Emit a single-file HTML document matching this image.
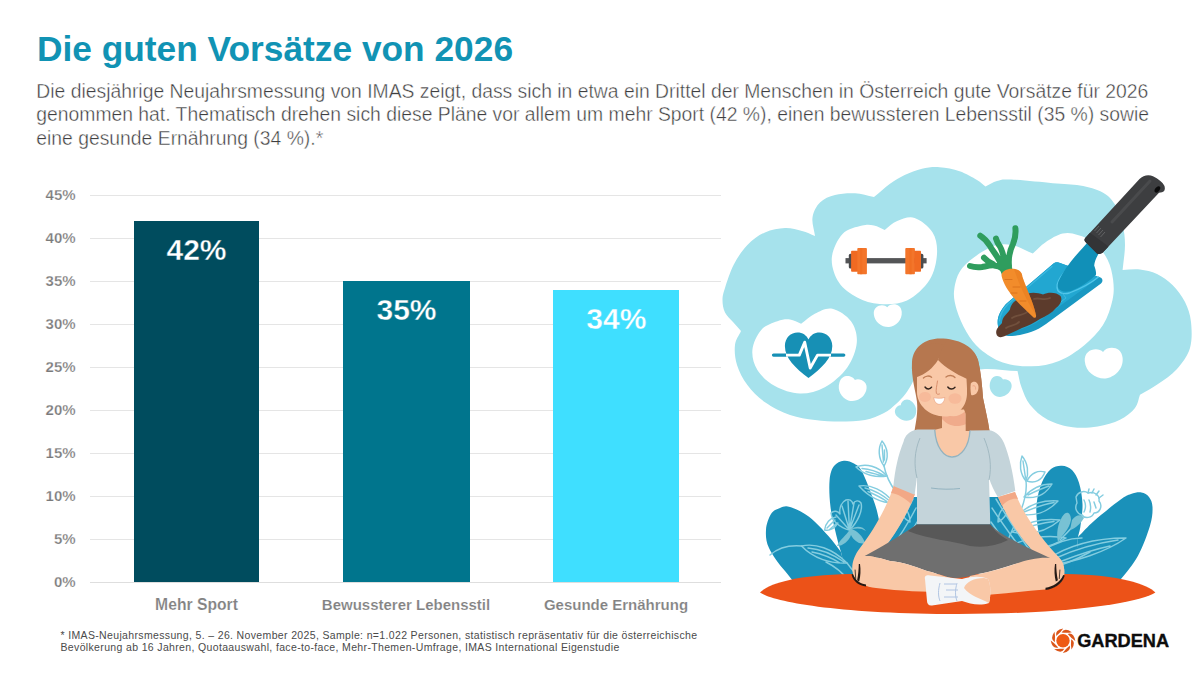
<!DOCTYPE html>
<html lang="de">
<head>
<meta charset="utf-8">
<title>Die guten Vorsätze von 2026</title>
<style>
html,body{margin:0;padding:0;background:#fff;}
body{width:1203px;height:677px;position:relative;overflow:hidden;font-family:"Liberation Sans",sans-serif;}
.abs{position:absolute;white-space:nowrap;}
#title{left:37px;top:28.8px;font-size:35.3px;line-height:40px;font-weight:bold;color:#1193b4;}
.body{left:36.3px;font-size:19.34px;line-height:24px;color:#3e3e40;-webkit-text-stroke:0.4px #fff;}
.grid{position:absolute;left:90px;width:631px;height:1px;background:#e5e5e5;}
.ylab{position:absolute;left:30px;width:45.6px;text-align:right;font-size:15px;line-height:16px;font-weight:bold;color:#7a7a7a;-webkit-text-stroke:0.25px #fff;}
.bar{position:absolute;}
.val{position:absolute;width:126px;text-align:center;color:#fff;font-weight:bold;font-size:30px;line-height:30px;}
.cat{position:absolute;width:210px;text-align:center;color:#828282;font-weight:bold;font-size:15px;line-height:18px;top:595.9px;-webkit-text-stroke:0.15px #fff;}
.foot{left:60.5px;font-size:10.5px;line-height:12px;color:#4a4a4a;letter-spacing:0.35px;}
#illu{position:absolute;left:0;top:0;}
</style>
</head>
<body>
<div id="title" class="abs">Die guten Vorsätze von 2026</div>
<div id="b1" class="abs body" style="top:78.8px;">Die diesjährige Neujahrsmessung von IMAS zeigt, dass sich in etwa ein Drittel der Menschen in Österreich gute Vorsätze für 2026</div>
<div id="b2" class="abs body" style="top:102.4px;">genommen hat. Thematisch drehen sich diese Pläne vor allem um mehr Sport (42 %), einen bewussteren Lebensstil (35 %) sowie</div>
<div id="b3" class="abs body" style="top:126px;">eine gesunde Ernährung (34 %).*</div>

<!-- gridlines -->
<div class="grid" style="top:195px"></div>
<div class="grid" style="top:238px"></div>
<div class="grid" style="top:281px"></div>
<div class="grid" style="top:324px"></div>
<div class="grid" style="top:367px"></div>
<div class="grid" style="top:410px"></div>
<div class="grid" style="top:453px"></div>
<div class="grid" style="top:496px"></div>
<div class="grid" style="top:539px"></div>
<div class="grid" style="top:582px;background:#dedede"></div>

<!-- y labels -->
<div class="ylab" style="top:187px">45%</div>
<div class="ylab" style="top:230px">40%</div>
<div class="ylab" style="top:273px">35%</div>
<div class="ylab" style="top:316px">30%</div>
<div class="ylab" style="top:359px">25%</div>
<div class="ylab" style="top:402px">20%</div>
<div class="ylab" style="top:445px">15%</div>
<div class="ylab" style="top:488px">10%</div>
<div class="ylab" style="top:531px">5%</div>
<div class="ylab" style="top:574px">0%</div>

<!-- bars -->
<div class="bar" style="left:133.5px;top:221px;width:125.5px;height:361px;background:#004c5e"></div>
<div class="bar" style="left:343.3px;top:281px;width:126.5px;height:301px;background:#00758d"></div>
<div class="bar" style="left:553.3px;top:289.6px;width:126px;height:292px;background:#3fdfff"></div>
<div class="val" style="left:133.5px;top:235.2px;-webkit-text-stroke:0.4px #004c5f">42%</div>
<div class="val" style="left:343.5px;top:295.2px;-webkit-text-stroke:0.4px #00758d">35%</div>
<div class="val" style="left:553.3px;top:303.8px;-webkit-text-stroke:0.4px #3fdfff">34%</div>

<div class="cat" style="left:91.5px;font-size:15.7px">Mehr Sport</div>
<div class="cat" style="left:301px">Bewussterer Lebensstil</div>
<div class="cat" style="left:511px">Gesunde Ernährung</div>

<div id="f1" class="abs foot" style="top:628.7px">* IMAS-Neujahrsmessung, 5. – 26. November 2025, Sample: n=1.022 Personen, statistisch repräsentativ für die österreichische</div>
<div id="f2" class="abs foot" style="top:641.2px">Bevölkerung ab 16 Jahren, Quotaauswahl, face-to-face, Mehr-Themen-Umfrage, IMAS International Eigenstudie</div>

<svg id="illu" width="1203" height="677" viewBox="0 0 1203 677">
<!--ILLU-->
<path d="M722.5,300.0 C722.5,295.9 723.1,293.9 725.0,288.0 C726.9,282.1 730.0,272.0 733.7,264.8 C737.4,257.6 742.2,250.3 747.4,244.9 C752.6,239.5 758.7,235.2 765.0,232.4 C771.3,229.6 778.8,228.2 785.0,228.0 C791.2,227.8 797.0,229.7 802.0,231.0 C807.0,232.3 810.7,234.3 815.0,236.0 C814.2,229.9 811.7,223.0 812.5,217.4 C813.3,211.8 816.2,206.1 820.0,202.4 C823.8,198.7 829.2,196.5 835.0,195.0 C840.8,193.5 848.5,193.0 855.0,193.3 C861.5,193.6 867.7,195.8 874.0,197.0 C879.3,192.6 884.9,187.4 890.0,183.7 C895.1,180.0 899.4,177.5 904.7,175.0 C910.0,172.5 916.2,170.0 922.0,168.7 C927.8,167.4 933.3,166.8 939.6,167.2 C945.9,167.6 953.4,169.1 959.6,171.2 C965.8,173.3 972.7,177.4 977.0,180.0 C981.3,182.6 982.7,184.4 985.5,186.5 C989.3,184.7 992.9,182.2 997.0,181.0 C1001.1,179.8 1000.7,179.1 1010.0,179.5 C1019.3,179.9 1041.0,182.2 1052.7,183.2 C1064.4,184.2 1071.7,184.0 1080.0,185.5 C1088.3,187.0 1096.9,189.2 1102.7,192.4 C1108.5,195.6 1111.7,199.1 1115.0,204.5 C1118.3,209.9 1120.9,218.2 1122.6,225.0 C1124.3,231.8 1125.0,237.5 1125.0,245.0 C1125.0,252.5 1123.4,261.8 1122.6,270.0 C1128.3,269.8 1134.3,268.8 1140.0,269.5 C1145.7,270.2 1151.6,271.4 1157.0,274.0 C1162.4,276.6 1167.8,280.3 1172.5,285.0 C1177.2,289.7 1181.9,295.8 1185.0,302.0 C1188.1,308.2 1190.2,314.3 1191.0,322.0 C1191.8,329.7 1192.3,340.2 1190.0,348.0 C1187.7,355.8 1182.3,363.0 1177.0,369.0 C1171.7,375.0 1164.2,379.7 1158.0,384.0 C1151.8,388.3 1145.9,391.2 1140.0,394.8 C1138.3,399.2 1138.3,403.8 1135.0,408.0 C1131.7,412.2 1126.2,416.7 1120.0,419.8 C1113.8,422.9 1105.6,425.2 1097.7,426.5 C1089.8,427.8 1081.0,428.4 1072.7,427.3 C1064.4,426.2 1054.8,423.6 1047.7,419.8 C1040.6,416.1 1034.4,410.2 1030.0,404.8 C1025.6,399.4 1023.6,392.9 1021.5,387.3 C1019.4,381.7 1018.8,376.4 1017.5,371.0 C1004.5,370.7 987.6,367.2 978.0,370.0 C968.4,372.8 970.6,386.8 960.0,388.0 C949.4,389.2 929.5,380.6 914.5,377.0 C913.7,379.1 913.6,380.6 912.0,383.5 C910.4,386.4 907.7,391.1 905.0,394.5 C902.3,397.9 899.5,400.9 896.0,404.0 C892.5,407.1 889.2,410.3 884.0,413.0 C878.8,415.7 872.3,418.6 865.0,420.0 C857.7,421.4 848.3,421.5 840.0,421.5 C831.7,421.5 823.3,421.1 815.0,420.0 C806.7,418.9 798.3,417.9 790.0,415.0 C781.7,412.1 772.1,407.3 765.0,402.3 C757.9,397.3 752.1,391.2 747.4,385.0 C742.7,378.8 739.1,371.7 737.0,365.0 C734.9,358.3 734.3,350.7 735.0,345.0 C735.7,339.3 739.0,335.6 741.0,331.0 C738.4,328.0 735.7,325.1 733.0,322.0 C730.3,318.9 726.8,316.2 725.0,312.5 C723.2,308.8 722.5,304.1 722.5,300.0Z" fill="#a6e2ec"/>
<path d="M884.7,229.9 C881.2,228.4 877.8,226.2 874.0,225.5 C870.2,224.8 867.5,224.2 862.2,225.6 C857.0,227.0 847.6,228.6 842.5,234.0 C837.4,239.4 832.4,249.9 831.8,258.0 C831.2,266.1 834.6,275.7 838.8,282.3 C843.0,288.9 850.4,293.9 857.2,297.5 C864.0,301.1 871.4,303.5 879.7,304.0 C888.0,304.5 898.7,304.5 907.0,300.5 C915.3,296.5 924.5,287.8 929.5,280.0 C934.5,272.2 936.5,261.9 937.0,254.0 C937.5,246.1 936.3,238.4 932.6,232.4 C928.9,226.4 920.5,219.8 914.6,217.9 C908.7,216.0 902.2,219.1 897.2,221.1 C892.2,223.1 888.8,227.0 884.7,229.9Z" fill="#fff"/>
<path d="M801.1,323.7 C797.4,322.3 794.0,319.9 790.0,319.5 C786.0,319.1 782.2,319.5 777.4,321.2 C772.6,322.9 765.4,325.1 761.2,329.9 C757.0,334.7 753.0,343.2 752.4,349.9 C751.8,356.6 753.6,363.9 757.4,369.9 C761.1,375.9 767.8,382.2 774.9,386.1 C782.0,390.1 791.6,393.4 799.9,393.6 C808.2,393.8 816.9,391.7 824.8,387.3 C832.7,382.9 842.0,374.9 847.3,367.4 C852.6,359.9 856.2,350.1 856.8,342.4 C857.4,334.7 855.1,326.8 851.0,321.2 C846.9,315.6 838.3,309.9 832.3,308.7 C826.3,307.4 820.0,311.2 814.8,313.7 C809.6,316.2 805.6,320.4 801.1,323.7Z" fill="#fff"/>
<path d="M1032.8,253.6 C1025.9,250.8 1019.1,246.1 1012.0,245.0 C1004.9,243.9 998.6,243.6 990.4,247.3 C982.2,251.0 968.9,260.2 962.9,267.3 C956.9,274.4 955.2,282.7 954.2,289.8 C953.2,296.9 954.7,302.7 956.7,309.7 C958.8,316.7 962.6,325.4 966.5,332.0 C970.4,338.6 974.0,343.9 980.0,349.0 C986.0,354.1 994.2,359.6 1002.8,362.5 C1011.4,365.4 1022.2,366.6 1031.6,366.3 C1041.0,366.1 1050.3,364.5 1059.0,361.0 C1067.7,357.5 1076.7,351.5 1084.0,345.5 C1091.3,339.5 1098.2,332.6 1103.0,325.0 C1107.8,317.4 1110.8,307.5 1112.5,300.0 C1114.2,292.5 1113.9,286.5 1113.1,279.8 C1112.3,273.1 1110.6,265.9 1107.6,259.8 C1104.6,253.7 1100.0,247.2 1095.0,243.0 C1090.0,238.8 1083.1,236.5 1077.7,234.9 C1072.3,233.3 1068.1,232.3 1062.7,233.6 C1057.3,234.8 1050.3,239.1 1045.3,242.4 C1040.3,245.7 1036.9,249.9 1032.8,253.6Z" fill="#fff"/>
<path d="M0,-0.72 C-0.22,-1.08 -1,-1.05 -1,-0.22 C-1,0.5 -0.5,0.98 0,1 C0.5,0.98 1,0.5 1,-0.22 C1,-1.05 0.22,-1.08 0,-0.72 Z" fill="#fff" transform="translate(888,315.5) rotate(-5) scale(14,11.5)"/>
<path d="M0,-0.78 C-0.22,-1.08 -1,-1.05 -1,-0.22 C-1,0.5 -0.5,0.98 0,1 C0.5,0.98 1,0.5 1,-0.22 C1,-1.05 0.22,-1.08 0,-0.78 Z" fill="#fff" transform="translate(852,389) rotate(18) scale(14,12)"/>
<path d="M0,-0.72 C-0.22,-1.08 -1,-1.05 -1,-0.22 C-1,0.5 -0.5,0.98 0,1 C0.5,0.98 1,0.5 1,-0.22 C1,-1.05 0.22,-1.08 0,-0.72 Z" fill="#fff" transform="translate(1104,363) rotate(-5) scale(19,15.5)"/>
<path d="M0,-0.8 C-0.22,-1.08 -1,-1.05 -1,-0.22 C-1,0.5 -0.5,0.98 0,1 C0.5,0.98 1,0.5 1,-0.22 C1,-1.05 0.22,-1.08 0,-0.8 Z" fill="#a6e2ec" transform="translate(906.5,411) rotate(-45) scale(10.5,10)"/>
<path d="M0,-0.8 C-0.22,-1.08 -1,-1.05 -1,-0.22 C-1,0.5 -0.5,0.98 0,1 C0.5,0.98 1,0.5 1,-0.22 C1,-1.05 0.22,-1.08 0,-0.8 Z" fill="#a6e2ec" transform="translate(1000,387) rotate(22) scale(11,10)"/>
<rect x="845.5" y="258.1" width="81.1" height="5.3" fill="#545557"/>
<rect x="848.8" y="253.8" width="4" height="14.8" rx="1.6" fill="#4a4b4d"/>
<rect x="919.4" y="253.8" width="4" height="14.8" rx="1.6" fill="#4a4b4d"/>
<rect x="851.1" y="250.7" width="7" height="21" rx="0.8" fill="#f06a22"/>
<rect x="857.3" y="248.1" width="9.6" height="26.2" rx="0.8" fill="#f3752a"/>
<rect x="905.3" y="248.1" width="9.6" height="26.2" rx="0.8" fill="#f3752a"/>
<rect x="914.2" y="250.7" width="6.8" height="21" rx="0.8" fill="#f06a22"/>
<rect x="860" y="248.1" width="2.2" height="26.2" fill="#ee6a20" opacity="0.6"/>
<rect x="909.5" y="248.1" width="2.2" height="26.2" fill="#ee6a20" opacity="0.6"/>
<path d="M808.5,377.9 C795,368 784.9,358 784.9,346 C784.9,337.5 791,332.4 797.5,332.4 C802.5,332.4 806.5,335 808.5,339.5 C810.5,335 814.5,332.4 819.5,332.4 C826,332.4 832.3,337.5 832.3,346 C832.3,358 822,368 808.5,377.9Z" fill="#1790b5"/>
<path d="M773.5,355.1 H786 M831,355.1 H843.8" stroke="#1790b5" stroke-width="3.2" stroke-linecap="round" fill="none"/>
<path d="M786,355.1 H799.3 L804.7,342.2 L810.2,368 L817.5,355.1 H831" stroke="#fff" stroke-width="2.9" stroke-linejoin="round" fill="none"/>
<path d="M998,326 C996.5,318 1000,311 1006,304 L1053.5,263.5 C1055.5,262 1058,262 1060,263 L1100.5,277.5 C1103,278.8 1103,281.5 1101,283.5 L1046,324 C1036,331.5 1024,335 1012,336 C1004,336.5 999,333 998,326Z" fill="#1a98c2"/>
<path d="M998,326 C996.5,318 1000,311 1006,304 L1053.5,263.5 C1055.5,262 1058,262 1060,263 L1096,276 C1097.5,277 1097.5,278.5 1096,279.8 L1042,319 C1032,326 1020,330.5 1010,331.5 C1003,332 999,330 998,326Z" fill="#22a7d1"/>
<path d="M1069.3,266.5 C1063,273 1058.5,279 1057.2,284.5 C1056.5,289 1058,292 1061.5,293 C1064,293.8 1067,293.6 1069.3,293 C1080,289 1091,283 1098.5,277" stroke="#52c6ea" stroke-width="1.3" fill="none" stroke-linecap="round"/>
<path d="M1052,266.5 L1008,304 C1003,309 1000,315 999.5,321" stroke="#3db9e0" stroke-width="1.1" fill="none" stroke-linecap="round"/>
<path d="M1063,294 L1066,298 L1040,318" stroke="#3db9e0" stroke-width="1" fill="none" stroke-linecap="round"/>
<path d="M1089,240.5 L1099,253 C1096,258 1094.5,262 1094.2,265.5 C1095.5,269 1096.3,272 1096,274.8 C1089,282 1080,287.5 1071,291 C1065,292.5 1060.5,291.5 1058.5,288.5 C1057.3,286 1057.6,283 1059.5,279.5 C1063,272 1069,263.5 1075,256.5 C1080,251 1084.5,246 1089,240.5Z" fill="#1190b8"/>
<path d="M1085.2,238 L1139.5,179 C1143,175 1149,174.2 1153,176.2 C1158,178.5 1163,182.5 1164.5,186 C1165.5,189.5 1164.5,191.5 1162,192.3 L1159,192.8 L1104,251.3 C1102,253.8 1099,254.8 1097,253.5 L1085.5,242 C1084.2,240.6 1084.2,239.2 1085.2,238Z" fill="#3d3e40"/>
<path d="M1085.2,238 L1090,232.8 L1108.5,246.5 L1104,251.3 C1102,253.8 1099,254.8 1097,253.5 L1085.5,242 C1084.2,240.6 1084.2,239.2 1085.2,238Z" fill="#333436"/>
<path d="M1112,222 L1150,181" stroke="#4a4b4d" stroke-width="3" fill="none" stroke-linecap="round"/>
<ellipse cx="1157.4" cy="189.4" rx="2.2" ry="3.6" transform="rotate(38 1157.4 189.4)" fill="#0a0a0a"/>
<path d="M1094.5,231 L1099,226 M1096.5,233 L1101,228 M1098.5,235 L1103,230 M1100.5,237 L1105,232" stroke="#6c6d6f" stroke-width="0.8" fill="none"/>
<path d="M996.3,333.5 C995.5,329 999,326.5 1002,323 C1002,317 1007,314 1010,309.5 C1011,303 1017,299 1023,296 C1029,291.5 1037,292.5 1043,294.5 C1049,291.5 1057,292.5 1060.5,296 C1063,300 1060,305 1056,308 C1052,313 1046,316 1040,319 C1034,323 1028,326 1022,328 C1016,331 1010,333 1005,336 C1001,338 997,337.5 996.3,333.5Z" fill="#5c3b2c"/>
<path d="M1012,318 C1018,314 1024,316 1028,311 M1034,299 C1039,297 1044,301 1050,298 M1006,328 C1010,325 1015,326 1019,322" stroke="#71503d" stroke-width="1.8" fill="none" stroke-linecap="round"/>
<path d="M1002.4,268.5 C1000,258 993,252 990,246 C987,241 984,238 980.3,235.7 M1005.5,267 C1004,258 1003,250 999,245 C997,242 996.5,240 996,238.5 M1009,266 C1008,256 1010,250 1013,244 C1015,239 1016,234 1015.4,228.3 M1003,269 C996,263 988,266 982,267 C977,267.5 973,267 970,266 M993,264 C989,262.5 986,260 984,257.8" stroke="#2f9d5e" stroke-width="6" fill="none" stroke-linecap="round" stroke-linejoin="round"/>
<path d="M1000,270 L1012,267 L1013,274 L1002,275Z" fill="#2f9d5e"/>
<path d="M1001.6,276 C1001,271.5 1006.5,268.8 1012,268.8 C1018,268.8 1022.3,272 1022.3,276.5 C1024.5,283 1027,289 1029,294 C1032,301 1034.5,308 1036,315 C1036.6,318 1034.5,318.6 1033,317 C1026,310.5 1019,304 1013.5,297.5 C1008,290.5 1003.5,284 1001.6,276Z" fill="#f28c2b"/>
<path d="M1014,269 C1018.5,269.5 1022.3,272 1022.3,276.5 C1024.5,283 1027,289 1029,294 C1032,301 1034.5,308 1036,315 C1028,303 1020,287 1014,269Z" fill="#e67a1e" opacity="0.5"/>
<path d="M1005,279.5 H1012 M1013,287 H1020 M1011,293 H1017 M1020,301 H1026" stroke="#d8701c" stroke-width="0.9" fill="none" stroke-linecap="round"/>
<path d="M843.8,460.7 C847.1,460.3 851.0,461.7 854.0,463.5 C857.0,465.3 858.9,465.8 862.0,471.5 C865.1,477.2 869.9,490.1 872.6,497.6 C875.3,505.2 876.9,509.7 878.3,516.8 C879.7,523.9 881.7,529.1 881.0,540.0 C880.3,550.9 879.2,574.7 874.0,582.0 C868.8,589.3 855.5,589.0 850.0,584.0 C844.5,579.0 844.0,562.6 841.0,552.0 C839.7,547.4 838.8,545.5 837.0,538.0 C835.2,530.5 831.7,516.7 830.5,507.0 C829.3,497.3 829.0,486.8 829.6,480.0 C830.2,473.2 831.6,469.2 834.0,466.0 C836.4,462.8 840.5,461.1 843.8,460.7Z" fill="#1a91ba"/>
<path d="M790.0,507.0 C794.8,508.5 802.6,512.0 809.0,516.8 C815.4,521.6 823.1,530.1 828.4,536.0 C833.7,541.9 836.8,546.7 841.0,552.0 C843.3,563.9 853.8,581.7 848.0,588.0 C842.2,594.3 816.5,592.8 806.0,590.0 C795.5,587.2 791.2,578.0 785.0,571.0 C778.8,564.0 772.2,554.8 769.0,548.0 C765.8,541.2 765.7,535.7 766.0,530.0 C766.3,524.3 768.7,517.7 771.0,514.0 C773.3,510.3 776.8,509.2 780.0,508.0 C783.2,506.8 785.2,505.5 790.0,507.0Z" fill="#1a91ba"/>
<path d="M1062.0,465.7 C1065.5,465.9 1069.2,467.1 1072.0,470.0 C1074.8,472.9 1077.2,477.1 1079.0,482.8 C1080.8,488.5 1082.2,496.9 1082.5,504.0 C1082.8,511.1 1081.2,520.2 1080.5,525.7 C1079.8,531.2 1078.8,533.3 1078.0,537.0 C1076.7,552.5 1078.7,576.2 1074.0,584.0 C1069.3,591.8 1055.2,589.5 1050.0,584.0 C1044.8,578.5 1044.9,560.7 1042.8,551.0 C1040.7,541.3 1038.5,533.5 1037.5,525.7 C1036.5,517.9 1035.9,511.1 1036.6,504.0 C1037.3,496.9 1039.4,488.6 1041.8,482.8 C1044.2,477.0 1047.6,471.9 1051.0,469.0 C1054.4,466.1 1058.5,465.5 1062.0,465.7Z" fill="#1a91ba"/>
<path d="M1141.4,492.5 C1144.4,493.0 1147.2,494.6 1149.0,497.0 C1150.8,499.4 1152.3,502.2 1152.5,507.0 C1152.7,511.8 1152.4,517.6 1150.0,525.7 C1147.6,533.8 1142.8,546.8 1138.0,555.7 C1133.2,564.6 1125.7,573.0 1121.0,579.0 C1116.3,585.0 1117.5,589.8 1110.0,592.0 C1102.5,594.2 1081.3,601.2 1076.0,592.0 C1070.7,582.8 1077.3,555.1 1078.0,537.0 C1083.3,531.7 1087.0,527.2 1094.0,521.0 C1101.0,514.8 1113.8,504.5 1120.0,500.0 C1126.2,495.5 1127.4,495.2 1131.0,494.0 C1134.6,492.8 1138.4,492.0 1141.4,492.5Z" fill="#1a91ba"/>
<path d="M900,497 L1010,497 L1044,556 L868,556Z" fill="#1a91ba"/>
<g stroke="#84cde0" stroke-width="1.45" fill="none" stroke-linecap="round" stroke-linejoin="round">
<path d="M882,441 C878,448 878,458 884,466 C889,458 888,448 882,441Z M882,445 L883.5,462 M884.5,450 L884.5,460"/>
<path d="M856,467 C866,463 878,466 887,476 C876,478 864,475 856,467Z M862,468.5 C870,469 878,472 884,475.5 M866,471.5 C872,473 878,474.5 882,476"/>
<path d="M859,486 C870,484 884,490 894,503 C880,503 868,496 859,486Z M865,488 C874,490 884,496 891,502 M868,491.5 C876,495 882,498 887,501.5"/>
<path d="M884,466 C886,476 890,484 896,492"/>
<path d="M849.5,530 C840,528 832,521 831,513 C834,510 838,511 840,514 C839,507 842,502 846,500 C849,499 852,500 853,504 C855,500 859,500 861,503 C863,510 858,522 849.5,530Z"/>
<path d="M849.5,530 L836,515 M849.5,530 L842,506 M849.5,530 L848,501 M849.5,530 L854,503 M849.5,530 L859,505"/>
<path d="M836,517 C830,518 825.5,523 824.6,530 C830,531 835,528 838,523 M827,528 L835,520 M829,530 L837,523"/>
<path d="M801.5,546 C815,543 832,548 847,563 C830,564 813,558 801.5,546Z M808,548 C820,549 834,555 844,562 M812,552 C822,554 832,558 840,563"/>
<path d="M847,563 C852,570 858,576 864,580 M826,562 C834,566 842,572 848,580"/>
<path d="M801.5,546 C790,545 778,548 770,555"/>
<path d="M878,556 C890,540 902,522 913,499 M886,556 C896,542 906,528 916,508 M895,556 C903,546 910,535 917,522 M872,548 C884,540 896,528 906,512 M900,505 C906,508 910,514 910,522 C904,519 900,513 900,505Z"/>
<path d="M1034,556 C1022,540 1010,522 996,499 M1026,556 C1016,542 1004,526 992,508 M1016,556 C1008,546 1000,535 991,522 M1040,550 C1028,542 1016,530 1006,514 M1008,505 C1002,508 998,514 998,522 C1004,519 1008,513 1008,505Z"/>
<path d="M1022,456 C1019,464 1020,474 1026,481 C1029,473 1028,463 1022,456Z M1023,461 L1025.5,478"/>
<path d="M1027,481 C1031,473 1038,470 1045,472 C1042,480 1035,484 1027,481Z"/>
<path d="M1026,481 C1027,490 1025,500 1021,510 C1017,520 1012,530 1008,540"/>
<path d="M1024,497 C1032,488 1042,484 1052,484 C1046,494 1036,499 1024,497Z M1028,495 C1036,491 1043,488 1049,486"/>
<path d="M1019,514 C1030,504 1044,500 1058,501 C1048,512 1034,517 1019,514Z M1024,512 C1034,508 1044,504 1054,502.5"/>
<path d="M1012,532 C1026,522 1042,518 1060,520 C1046,532 1030,536 1012,532Z M1018,530 C1030,526 1042,523 1054,521.5"/>
<path d="M1006,548 C1024,538 1046,534 1066,538 C1050,548 1028,552 1006,548Z"/>
<path d="M1076,497 C1078,492 1084,490 1088,493 C1094,491 1100,495 1099,501 C1103,506 1100,513 1094,513 C1092,518 1085,519 1082,515 C1077,514 1074,508 1077,503Z"/>
<path d="M1088,493 L1089,489 M1092,493 L1094,489 M1096,495 L1099,491 M1099,498 L1103,495"/>
<path d="M1084,500 C1086,504 1086,508 1084,512 M1089,500 C1091,504 1091,508 1090,512 M1094,502 L1096,508"/>
<path d="M1082,515 C1076,524 1068,532 1060,540"/>
<path d="M1046,560 C1070,544 1100,538 1126,538 C1106,552 1076,562 1046,566Z M1056,558 C1078,548 1098,543 1118,540 M1062,561 C1080,554 1096,549 1110,546"/>
<path d="M1040,552 C1056,542 1070,538 1082,538 M1044,570 C1060,566 1076,560 1090,552"/>
</g>
<path d="M1062,517 C1066,510 1071,512 1071,520 C1069,530 1063,534 1058,542 C1056,533 1058,524 1062,517Z" fill="#78c2d4"/>
<path d="M1072,520 C1076,514 1082,514 1084,518 C1080,524 1076,528 1070,530Z" fill="#78c2d4"/>
<path d="M849.5,530 C846,536 840,539 837,546 C843,546 849,541 851,535 C854,541 860,545 865,543 C863,536 857,531 852,529 C857,528 862,528 866,531 C863,526 856,525 849.5,530Z" fill="#78c2d4"/>
<path d="M760,592.5 C768,584 795,575 850,574 L1066,574 C1120,575 1147,584 1155.4,592.5 C1141,602 1075,614 957.5,614 C840,614 774,602 760,592.5Z" fill="#ec5218"/>
<path d="M940,338.5 C925,338.5 913,347 912,362 C911,378 916,392 917,402 C918,412 916,422 914.5,431 L989.5,431 C988,420 985,408 983,398 C982,385 981,372 978,360 C974,346 958,338.5 940,338.5Z" fill="#b6774f"/>
<path d="M942,410 L964,409.5 L965.8,414 L966,428 L971,430 L970,446 C966,460 940,460 935,446 L934,430 L942,428Z" fill="#f9c8a7"/>
<path d="M942,411 C948,418 958,418 965,411.5 L966,424 C957,428 948,426 942,419Z" fill="#f0ab8b"/>
<path d="M917,372 C917,362 926,358 941,358 C957,358 967,363 967,374 L967,392 C967.5,406 958,416.5 945,416.5 C929,416.5 917,405 917,392Z" fill="#f9c8a7"/>
<ellipse cx="925" cy="397" rx="6" ry="5" fill="#f3a88b" opacity="0.45"/>
<ellipse cx="955" cy="398.5" rx="6.5" ry="5.2" fill="#f3a88b" opacity="0.45"/>
<path d="M938,360 C933,368 926,374 916,377.5 C913,370 913,356 922,348 C930,342 940,342 946,346 C943,350 940,355 938,360Z" fill="#b6774f"/>
<path d="M938,360 C946,368 956,374 966.5,378.7 L967.5,398 C967.5,404 966,408 965.7,412 L965.7,431 L989.5,431 C988,420 985,408 983,398 C982,385 981,372 978,360 C974,348 960,340 946,342 C942,347 940,354 938,360Z" fill="#b6774f"/>
<path d="M970.8,383.5 C973,380.5 978.5,381.5 978.5,387.5 C978.5,392.5 975,396 971.2,395 C970.3,391 970.3,387 970.8,383.5Z" fill="#f9c8a7"/>
<path d="M972.5,386 C974.5,385 976,386.5 975.5,389.5" stroke="#e9a07f" stroke-width="0.8" fill="none"/>
<path d="M923.4,378 C925.5,375.5 929.5,375.5 931.6,377.3 M946,377 C948.5,374.8 953,375 955,377.5" stroke="#c07f58" stroke-width="1.3" fill="none" stroke-linecap="round"/>
<path d="M925,387 C926.8,389.6 930,389.6 931.6,387.2 M947.8,387 C949.6,389.6 953,389.6 955,387.2" stroke="#33241d" stroke-width="1.4" fill="none" stroke-linecap="round"/>
<path d="M937.5,381 C936.8,386 935.6,390 936.4,393.4 C937.2,394.5 938.5,394.5 939.5,394" stroke="#d98f6d" stroke-width="1" fill="none" stroke-linecap="round"/>
<path d="M933.8,397.6 C937,398.6 941.5,398.6 944.8,397.4 C944.3,402.5 941.5,404.5 939,404.3 C936.3,404.1 934.2,401.5 933.8,397.6Z" fill="#fff" stroke="#e2906f" stroke-width="0.5"/>
<path d="M894,485 C888,505 874,530 860,548 C853,557 851,566 853,574 C855,582 861,585 865,582 C866,572 870,564 878,555 C892,540 906,518 915,494Z" fill="#f9c8a7"/>
<path d="M894,485 L915,494 L911,504 C905,498 898,494 891,493Z" fill="#f2a886"/>
<path d="M1015,492 C1022,512 1038,534 1054,552 C1062,560 1066,568 1064,576 C1062,583 1056,585 1052,582 C1051,573 1047,566 1040,558 C1024,544 1008,520 998,497Z" fill="#f9c8a7"/>
<path d="M1015,492 L998,497 L1002,506 C1007,500 1013,498 1018,499Z" fill="#f2a886"/>
<path d="M934.7,429.6 L917,429.6 C909,431 905,436 903.6,441.4 C898,455 895,470 893.4,486 L914.6,494.7 C915.5,488 916.5,482 917,476 L917,524.6 L990.3,524.6 L989,478 C991,484 994,491 997.8,497 L1015.3,491 C1013,472 1009,455 1004,442.9 C1001,436 996,431.5 989.4,430.3 L970,430.5 C969,447 961,457 952,457 C944,457 936,448 934.7,429.6Z" fill="#c4d4da"/>
<path d="M934.7,429.6 C936,448 944,457 952,457 C961,457 969,447 970,430.5" stroke="#93b3c0" stroke-width="1.3" fill="none"/>
<path d="M917,478 C914,466 914,452 920,438 M989,480 C992,466 990,452 984,438" stroke="#9db5be" stroke-width="0.9" fill="none"/>
<path d="M931,488 C940,489.5 952,489.5 960,488.5" stroke="#93b3c0" stroke-width="1" fill="none"/>
<path d="M917,524.6 L990.3,524.6 C1000,535 1024,546 1050,558 C1040,560 1026,562 1015,564 C1002,568 990,572 978,574 C966,578 956,578.5 949,577.5 C940,575 932,572 927,571 C914,566 902,562 890,561 C880,558 872,556 864.7,556 C880,548 900,536 917,524.6Z" fill="#6f6f6f"/>
<path d="M917,524.6 L990.3,524.6 C994,530 1000,536 1008,540 C996,546 984,548 970,546 C950,540 930,540 908,531 Z" fill="#585858"/>
<path d="M1050,558 C1058,560 1064,567 1064,575 C1063,584 1054,588.5 1045,589.5 C1020,591.5 995,595 972,596 C966,590 966,582 970,576 C990,572 1004,568 1015,564 C1026,560 1040,557 1050,558Z" fill="#f9c8a7"/>
<path d="M864.7,556 C858,558 853,565 855,574 C857,583 866,587 876,588 C900,591 925,592 945,592 L964,588 C962,583 956,579.5 949,577.5 C940,575 932,572 927,571 C914,566 902,562 890,561 C880,558 872,555.5 864.7,556Z" fill="#f9c8a7"/>
<path d="M925,579 C924,576 927,574.5 930,575.5 L962,579 C972,576 982,576 988,579 C991,584 991,596 989,603 C980,606 970,604 962,601 L932,605.5 C929,606 927,604 927,601Z" fill="#f3f5f7"/>
<path d="M940,583 C938,590 938,596 940,601 M944,584 H956 M946,590 H958 M944,597 H958 M957,583 C955,590 955,596 957,601" stroke="#a9bfe0" stroke-width="0.9" fill="none"/>
<path d="M964,588 C966,582 974,578 984,578 L988,579 C991,584 991,596 989,603 C980,598 970,596 964,588Z" fill="#f9c8a7"/>
<path d="M853,573 C852,565 855,559 861,555 L868,560 C864,566 864,574 865,582 C861,585 855,582 853,573Z" fill="#f9c8a7"/>
<path d="M1064,573 C1065,565 1062,559 1056,555 L1049,560 C1053,566 1053,574 1052,582 C1056,585 1062,582 1064,573Z" fill="#f9c8a7"/>
<path d="M1055,564 C1054.1,570 1054.4,576 1055.8,581.5 L1057.9,580.3 C1056.7,575 1056.3,569 1056.2,564Z" fill="#241a16"/>
<path d="M1059.9,570 L1059.3,578.5" stroke="#241a16" stroke-width="0.8" fill="none" stroke-linecap="round"/>
<path d="M1045.5,590 C1054,589 1062,584.5 1064.8,575.5 L1063.2,575 C1060,582.5 1053,586.5 1045.5,587.8Z" fill="#241a16"/>
<path d="M860,564 C860.9,570 860.6,576 859.2,581.5 L857.1,580.3 C858.3,575 858.7,569 858.8,564Z" fill="#241a16"/>
<path d="M855.1,570 L855.7,578.5" stroke="#241a16" stroke-width="0.8" fill="none" stroke-linecap="round"/>
<path d="M866,586.5 C859,585.5 853.5,582 851.5,574.5 L853,574 C855.5,580.5 860,583.5 866,584.6Z" fill="#241a16"/>
<circle cx="1063" cy="640.7" r="6.7" fill="#ee5a14"/>
<path d="M1061.56,632.53 Q1064.42,627.17 1071.85,632.16 Q1067.72,633.15 1061.56,632.53 Z" fill="#db561a"/>
<path d="M1067.76,633.90 Q1073.57,632.14 1075.30,640.91 Q1071.67,638.70 1067.76,633.90 Z" fill="#db561a"/>
<path d="M1071.17,639.26 Q1076.53,642.12 1071.54,649.55 Q1070.55,645.42 1071.17,639.26 Z" fill="#db561a"/>
<path d="M1069.80,645.46 Q1071.56,651.27 1062.79,653.00 Q1065.00,649.37 1069.80,645.46 Z" fill="#db561a"/>
<path d="M1064.44,648.87 Q1061.58,654.23 1054.15,649.24 Q1058.28,648.25 1064.44,648.87 Z" fill="#db561a"/>
<path d="M1058.24,647.50 Q1052.43,649.26 1050.70,640.49 Q1054.33,642.70 1058.24,647.50 Z" fill="#db561a"/>
<path d="M1054.83,642.14 Q1049.47,639.28 1054.46,631.85 Q1055.45,635.98 1054.83,642.14 Z" fill="#db561a"/>
<path d="M1056.20,635.94 Q1054.44,630.13 1063.21,628.40 Q1061.00,632.03 1056.20,635.94 Z" fill="#db561a"/>
<text x="1077.2" y="646.9" font-family="Liberation Sans, sans-serif" font-weight="bold" font-size="18.2" fill="#0d0d0d" stroke="#0d0d0d" stroke-width="0.35">GARDENA</text>
<!--/ILLU-->
</svg>
</body>
</html>
